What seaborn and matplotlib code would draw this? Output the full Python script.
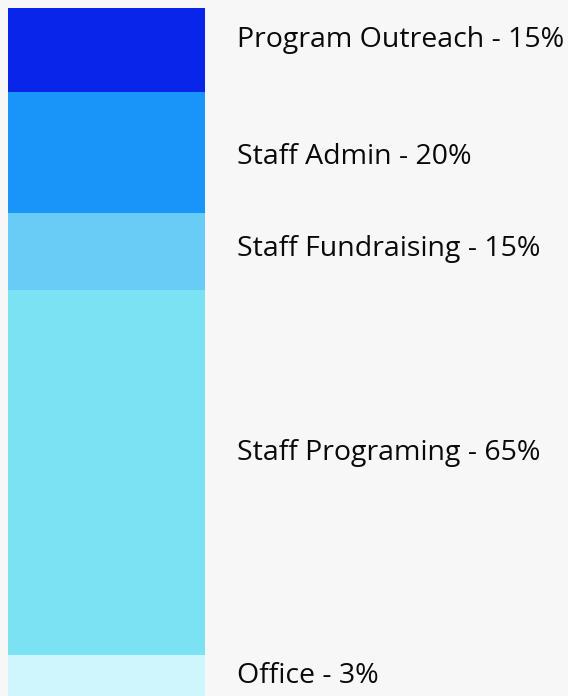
import seaborn as sns
import matplotlib.pyplot as plt
import matplotlib.transforms as mtransforms
import pandas as pd

# --- Data ---
categories = ['Program Outreach', 'Staff Admin', 'Staff Fundraising', 'Staff Programing', 'Office']
pct_labels = ['15%', '20%', '15%', '65%', '3%']
# drawn segment sizes (the picture's bars don't follow the printed percentages exactly)
segment_sizes = [15, 21.6, 13.8, 65.2, 7.3]
colors = ['#0a25ea', '#1994f9', '#68ccf6', '#7be2f3', '#cff6fd']

BG = '#f7f7f7'

sns.set_theme(style="white")
plt.rcParams['font.family'] = ['Open Sans', 'DejaVu Sans']

df = pd.DataFrame({'category': categories, 'size': segment_sizes, 'label': pct_labels})
df['bottom'] = df['size'].cumsum() - df['size']

fig = plt.figure(figsize=(5.68, 6.96), dpi=100)
fig.patch.set_facecolor(BG)
ax = fig.add_axes([8 / 568, 0, 197 / 568, 688 / 696])
ax.set_facecolor(BG)

# stacked single bar, one segment at a time
for i, row in df.iterrows():
    sns.barplot(x=['all'], y=[row['size']], bottom=row['bottom'], color=colors[i],
                width=1.0, saturation=1, linewidth=0, ax=ax)

ax.set_xlim(-0.5, 0.5)
ax.set_ylim(df['size'].sum(), 0)
ax.set_axis_off()

# labels to the right of the bar, at each segment's middle
trans = mtransforms.blended_transform_factory(ax.transAxes, ax.transData)
label_shift = [-1.8, 0.9, -0.5, -3.5, 0.0]
for i, row in df.iterrows():
    ymid = row['bottom'] + row['size'] / 2 + label_shift[i]
    ax.text(1.162, ymid, f"{row['category']} - {row['label']}", transform=trans,
            ha='left', va='center', fontsize=20.5, color='#0a0a0a', clip_on=False)

plt.savefig('out.png', dpi=100, facecolor=BG)
plt.close()
